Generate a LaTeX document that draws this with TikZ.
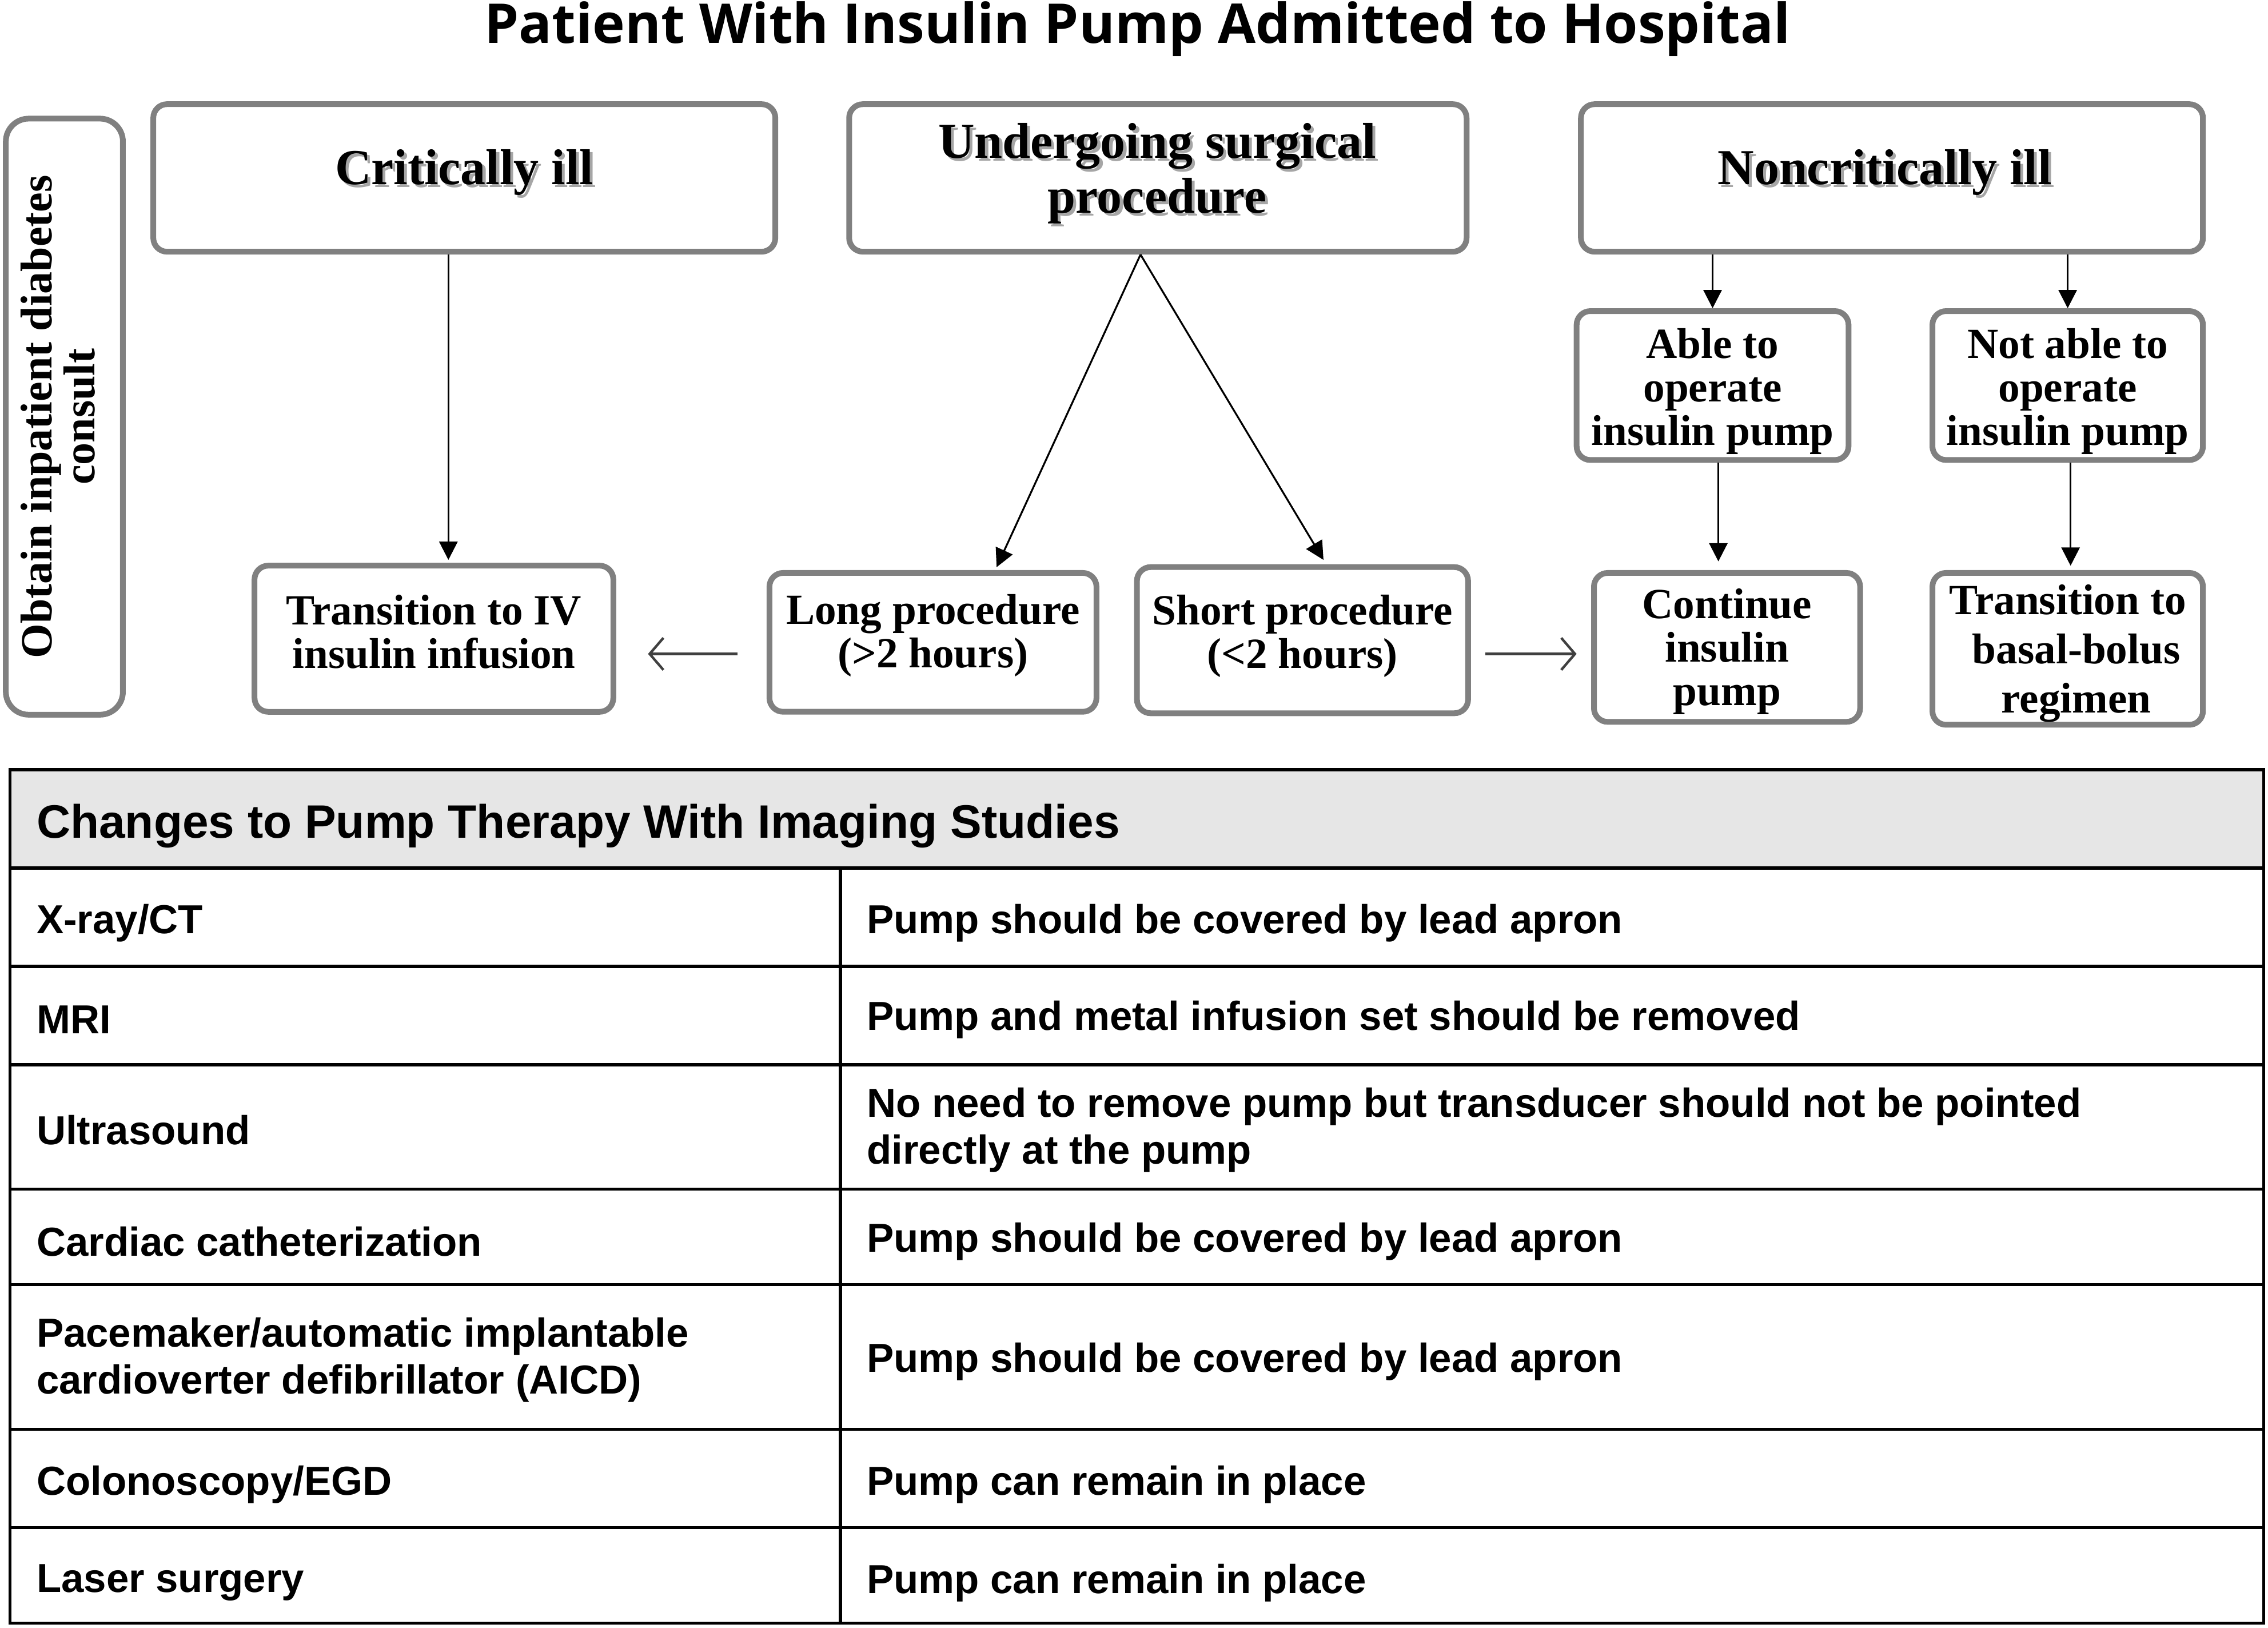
\documentclass[tikz,border=0pt]{standalone}
\usepackage{graphicx}
\usepackage{fontspec}
\setmainfont{Liberation Serif}
\newfontfamily\tabfont{Liberation Sans}
\newfontfamily\ttlfont{Open Sans}
\usetikzlibrary{arrows.meta,calc}
\definecolor{boxgray}{HTML}{808080}
\definecolor{hdrgray}{HTML}{E6E6E6}
\begin{document}
\begin{tikzpicture}[x=0.6325pt,y=-0.6325pt,
  box/.style={draw=boxgray, line width=2.5pt, rounded corners=6pt, fill=white, align=center, inner sep=0pt},
  toptxt/.style={font=\fontsize{22}{24}\selectfont\bfseries, align=center},
  shtxt/.style={toptxt, text=black!35},
  lowtxt/.style={font=\fontsize{18.8}{19}\selectfont\bfseries, align=center},
  arr/.style={line width=0.8pt, -{Triangle[length=8pt,width=8pt]}},
  garr/.style={draw=black!75, line width=1.1pt, -{Straight Barb[length=6pt,width=14pt,line width=1.1pt]}},
  tab/.style={font=\tabfont\bfseries\fontsize{17.7}{20.5}\selectfont, anchor=west, align=left, inner sep=0pt},
  tabline/.style={line width=1.3pt}]
\useasboundingbox (0,0) rectangle (1568,1125);

% title
\node[font=\ttlfont\bfseries, anchor=base] (title) at (786.5,30) {\resizebox{571pt}{!}{Patient With Insulin Pump Admitted to Hospital}};

% left vertical box
\node[box, rounded corners=10pt, minimum width=51.2pt, minimum height=260.6pt] (consult) at (44.5,288) {};
\node[rotate=90, font=\fontsize{19.5}{16.5}\selectfont\bfseries, align=center] (consultt) at (40,288) {Obtain inpatient diabetes\\consult};

% top boxes
\node[box, minimum width=272pt, minimum height=64.5pt] (crit) at (321,123) {};
\node[box, minimum width=270pt, minimum height=64.5pt] (surg) at (800.5,123) {};
\node[box, minimum width=272pt, minimum height=64.5pt] (noncrit) at (1308,123) {};
\node[shtxt] (critS) at (323,121) {Critically ill};
\node[toptxt] (critT) at (321,119) {Critically ill};
\node[shtxt] (surgS) at (802,122) {Undergoing surgical\\procedure};
\node[toptxt] (surgT) at (800,120) {Undergoing surgical\\procedure};
\node[shtxt] (noncritS) at (1305,121) {Noncritically ill};
\node[toptxt] (noncritT) at (1303,119) {Noncritically ill};

% lower boxes
\node[box, lowtxt, text depth=6.4pt, minimum width=156.9pt, minimum height=63.9pt] (trans) at (300,441.5) {Transition to IV\\insulin infusion};
\node[box, lowtxt, text depth=9.7pt, minimum width=143pt, minimum height=60.7pt] (long) at (645,444) {Long procedure\\(>2 hours)};
\node[box, lowtxt, text depth=7.8pt, minimum width=144.8pt, minimum height=63.9pt] (short) at (900.5,442.5) {Short procedure\\(<2 hours)};
\node[box, minimum width=118.9pt, minimum height=65.1pt] (able) at (1184,266.5) {};
\node[box, minimum width=118.3pt, minimum height=65.1pt] (notable) at (1429.5,266.5) {};
\node[box, minimum width=116.4pt, minimum height=65.1pt] (cont) at (1194,447.5) {};
\node[box, minimum width=118.3pt, minimum height=66.4pt] (basal) at (1429.5,448.5) {};
\node[lowtxt] (ableT) at (1184,270.5) {Able to\\operate\\insulin pump};
\node[lowtxt] (notableT) at (1429.5,270.5) {Not able to\\operate\\insulin pump};
\node[lowtxt] (contT) at (1194,450.5) {Continue\\insulin\\pump};
\node[lowtxt, font=\fontsize{18.8}{21.5}\selectfont\bfseries] (basalT) at (1429.5,451.5) {Transition to\\\hspace*{0.4em}basal-bolus\\\hspace*{0.4em}regimen};

% connectors
\draw[arr] ($(crit.south)+(-11,0)$) -- ($(crit.south |- trans.north)+(-11,-2)$);
\draw[arr] ($(surg.south)+(-12,0)$) -- ($(long.north)+(44,-2)$);
\draw[arr] ($(surg.south)+(-12,0)$) -- ($(short.north)+(14.5,-3)$);
\draw[garr] ($(long.west)+(-20,8)$) -- ($(trans.east |- long.west)+(22,8)$);
\draw[garr] ($(short.east)+(10,9.5)$) -- ($(cont.west |- short.east)+(-10,9.5)$);
\draw[arr] (able.north |- noncrit.south) -- (able.north);
\draw[arr] (notable.north |- noncrit.south) -- (notable.north);
\draw[arr] ($(able.south)+(4,0)$) -- ($(able.south |- cont.north)+(4,-6)$);
\draw[arr] ($(notable.south)+(2,0)$) -- ($(notable.south |- basal.north)+(2,-3)$);

% table
\fill[hdrgray] (7,532) rectangle (1565,600);
\draw[tabline] (7,532) rectangle (1565,1122);
\foreach \yy in {600,668,736,822,888,988,1056}
  \draw[tabline] (7,\yy) -- (1565,\yy);
\draw[tabline] (581,600) -- (581,1122);

\node[tab, font=\tabfont\bfseries\fontsize{20.5}{24}\selectfont] (hdr) at (25,571) {Changes to Pump Therapy With Imaging Studies};
\node[tab] (r1a) at (25,638) {X-ray/CT};
\node[tab] (r1b) at (599,638) {Pump should be covered by lead apron};
\node[tab] (r2a) at (25,705) {MRI};
\node[tab] (r2b) at (599,705) {Pump and metal infusion set should be removed};
\node[tab] (r3a) at (25,781) {Ultrasound};
\node[tab] (r3b) at (599,781) {No need to remove pump but transducer should not be pointed\\directly at the pump};
\node[tab] (r4a) at (25,858) {Cardiac catheterization};
\node[tab] (r4b) at (599,858) {Pump should be covered by lead apron};
\node[tab] (r5a) at (25,940) {Pacemaker/automatic implantable\\cardioverter defibrillator (AICD)};
\node[tab] (r5b) at (599,941) {Pump should be covered by lead apron};
\node[tab] (r6a) at (25,1026) {Colonoscopy/EGD};
\node[tab] (r6b) at (599,1026) {Pump can remain in place};
\node[tab] (r7a) at (25,1094) {Laser surgery};
\node[tab] (r7b) at (599,1094) {Pump can remain in place};
\end{tikzpicture}
\end{document}
